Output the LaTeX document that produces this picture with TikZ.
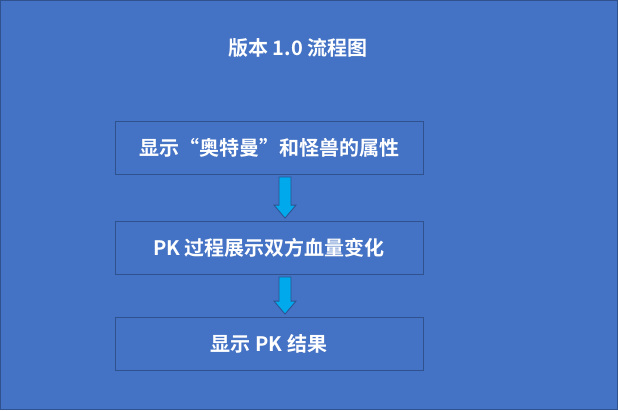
\documentclass[tikz,border=0pt]{standalone}
\usepackage{fontspec}
\newfontfamily\cjk{Noto Sans CJK SC Bold}
\definecolor{bg}{RGB}{68,114,196}
\definecolor{edge}{RGB}{47,82,143}
\definecolor{arr}{RGB}{0,168,236}
\begin{document}
\begin{tikzpicture}[x=1pt,y=-1pt,
  stepbox/.style={draw=edge, line width=0.8pt, minimum width=308pt, minimum height=53pt, inner sep=0pt, text=white, font=\cjk\fontsize{20}{24}\selectfont},
  barrow/.style={fill=arr, draw=edge, line width=0.8pt}]
\fill[fill=bg, draw=edge, line width=1pt] (0.5,0.5) rectangle (617.5,409.5);
\useasboundingbox (0,0) rectangle (618,410);
\node[text=white, font=\cjk\fontsize{20}{24}\selectfont] (title) at (298,48) {版本\ 1.0\ 流程图};
\node[stepbox] (b1) at (269,148) {显示“奥特曼”和怪兽的属性};
\node[stepbox] (b2) at (269,248) {PK 过程展示双方血量变化};
\node[stepbox] (b3) at (269,344) {显示\ PK\ 结果};
\foreach \a/\b in {b1/b2, b2/b3}{
  \path (\a.south -| 285,0) coordinate (s) (\b.north -| 285,0) coordinate (e);
  \draw[barrow] ([xshift=-6pt,yshift=-2pt]s) -- ([xshift=6pt,yshift=-2pt]s) -- ([xshift=6pt,yshift=16pt]e) -- ([xshift=11pt,yshift=16pt]e) -- ([yshift=3pt]e) -- ([xshift=-11pt,yshift=16pt]e) -- ([xshift=-6pt,yshift=16pt]e) -- cycle;
}
\end{tikzpicture}
\end{document}
